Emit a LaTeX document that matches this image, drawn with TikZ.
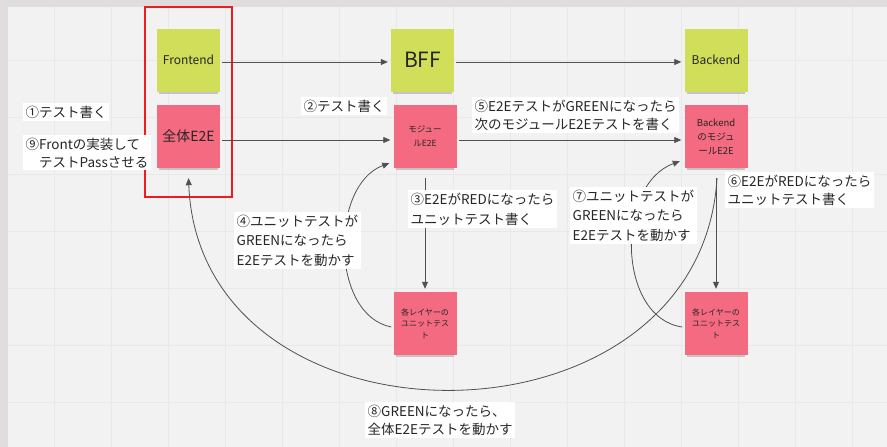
\documentclass[tikz,border=0pt]{standalone}
\usepackage{fontspec}
\setmainfont{Noto Sans CJK JP}
\usetikzlibrary{arrows.meta,shadows}
\definecolor{bgc}{HTML}{F2F2F2}
\definecolor{gridc}{HTML}{E8E8E8}
\definecolor{stripc}{HTML}{E1DCDD}
\definecolor{stgreen}{HTML}{D0DE5A}
\definecolor{stpink}{HTML}{F46A81}
\definecolor{linec}{HTML}{505050}
\definecolor{txtc}{HTML}{262626}
\definecolor{framered}{HTML}{EE1C1C}
\begin{document}
\begin{tikzpicture}[x=1pt,y=-1pt,
  sticky/.style={minimum width=63pt,minimum height=63pt,inner sep=2pt,align=center,text=txtc,
    drop shadow={shadow xshift=0pt,shadow yshift=-5pt,opacity=0.4,shadow scale=0.93}},
  gsticky/.style={sticky,fill=stgreen},
  psticky/.style={sticky,fill=stpink},
  conn/.style={draw=linec,line width=0.8pt},
  arr/.style={conn,-{Triangle[length=7pt,width=6pt]}},
  lbl/.style={fill=white,anchor=north west,align=left,inner xsep=2.5pt,inner ysep=2.5pt,text=txtc,
    font=\fontsize{13.5}{18}\selectfont},
  lblthree/.style={lbl,font=\fontsize{13.5}{19.5}\selectfont}]

\useasboundingbox (0,0) rectangle (887,447);
\fill[bgc] (0,0) rectangle (887,447);
\foreach \x in {54,111,...,887} \draw[gridc,line width=0.7pt] (\x,0) -- (\x,447);
\foreach \y in {3,60,...,447} \draw[gridc,line width=0.7pt] (0,\y) -- (887,\y);
\fill[stripc] (0,0) rectangle (887,7);
\fill[stripc] (0,0) rectangle (8,447);

% stickies
\node[gsticky,font=\fontsize{12}{14}\selectfont] (fe) at (188.5,60) {Frontend};
\node[gsticky,font=\fontsize{21}{24}\selectfont] (bff) at (422.5,60) {BFF};
\node[gsticky,font=\fontsize{12}{14}\selectfont] (be) at (716,60) {Backend};
\node[psticky,font=\fontsize{14}{16}\selectfont] (zen) at (188.5,136.5) {全体E2E};
\node[psticky,font=\fontsize{8.5}{14}\selectfont] (mod) at (425,136.5) {モジュー\\ルE2E};
\node[psticky,font=\fontsize{9.5}{14}\selectfont] (bm) at (716,136.5) {Backend\\のモジュ\\ールE2E};
\node[psticky,font=\fontsize{8}{11.5}\selectfont] (u1) at (425,323.5) {各レイヤーの\\ユニットテス\\ト};
\node[psticky,font=\fontsize{8}{11.5}\selectfont] (u2) at (716,323.5) {各レイヤーの\\ユニットテス\\ト};

% frame
\draw[framered,line width=1.8pt] (145,7) rectangle (232,197);

% straight connectors
\draw[arr,shorten <=2pt,shorten >=3pt] ([shift={(0,2)}]fe.east) -- ([shift={(0,2)}]bff.west);
\draw[arr,shorten <=2pt,shorten >=3pt] ([shift={(0,2)}]bff.east) -- ([shift={(0,2)}]be.west);
\draw[arr,shorten <=2pt,shorten >=3pt] ([shift={(0,3.5)}]zen.east) -- ([shift={(0,3.5)}]mod.west);
\draw[arr,shorten <=2pt,shorten >=3pt] ([shift={(0,3.5)}]mod.east) -- ([shift={(0,3.5)}]bm.west);
\draw[arr,shorten <=10pt,shorten >=3pt] (mod.south) -- (u1.north);
\draw[arr,shorten <=10pt,shorten >=3pt] (bm.south) -- (u2.north);

% curved connectors
\draw[arr] ([shift={(-2,3.5)}]u1.west) .. controls (330,315) and (330,185) .. ([shift={(-4,-5)}]mod.south west);
\draw[arr] ([shift={(-2,3.5)}]u2.west) .. controls (617,318) and (615,185) .. ([shift={(-4.5,-7)}]bm.south west);
\draw[arr] ([shift={(1,10)}]bm.south) .. controls (700,460) and (200,460) .. ([shift={(0,10)}]zen.south);

% labels
\node[lbl] (l1) at (23,103) {①テスト書く};
\node[lbl] (l9) at (23,135) {⑨Frontの実装して\\　テストPassさせる};
\node[lbl] (l2) at (301,97) {②テスト書く};
\node[lbl] (l5) at (472,97) {⑤E2EテストがGREENになったら\\次のモジュールE2Eテストを書く};
\node[lbl,font=\fontsize{13.5}{20}\selectfont] (l3) at (408,190) {③E2EがREDになったら\\ユニットテスト書く};
\node[lblthree] (l4) at (234,212) {④ユニットテストが\\GREENになったら\\E2Eテストを動かす};
\node[lblthree] (l7) at (570,187) {⑦ユニットテストが\\GREENになったら\\E2Eテストを動かす};
\node[lbl] (l6) at (725,172) {⑥E2EがREDになったら\\ユニットテスト書く};
\node[lbl] (l8) at (365,402) {⑧GREENになったら、\\全体E2Eテストを動かす};
\end{tikzpicture}
\end{document}
